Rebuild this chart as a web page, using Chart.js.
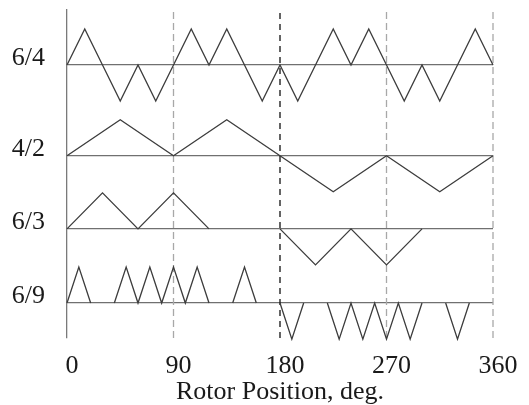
<!DOCTYPE html>
<html>
<head>
<meta charset="utf-8">
<title>Rotor Position</title>
<script src="https://cdn.jsdelivr.net/npm/chart.js"></script>
<style>
  html, body { margin: 0; padding: 0; background: #fff; }
  #wrap { width: 529px; height: 405px; }
</style>
</head>
<body>
<div id="wrap"><canvas id="myChart"></canvas></div>
<script>
// row names, top to bottom
const rowLabels = ['6/4', '4/2', '6/3', '6/9'];

// 6/4 waveform (angle in deg, value in units of peak)
const angle64 = [0, 15, 30, 45, 60, 75, 90, 105, 120, 135, 150, 165, 180,
                 195, 210, 225, 240, 255, 270, 285, 300, 315, 330, 345, 360];
const value64 = [0, 1, 0, -1, 0, -1, 0, 1, 0, 1, 0, -1, 0,
                 -1, 0, 1, 0, 1, 0, -1, 0, -1, 0, 1, 0];

// 4/2 waveform
const angle42 = [0, 45, 90, 135, 180, 225, 270, 315, 360];
const value42 = [0, 1, 0, 1, 0, -1, 0, -1, 0];

// 6/3 waveform (null = no pulse)
const angle63 = [0, 30, 60, 90, 120, 150, 180, 210, 240, 270, 300];
const value63 = [0, 1, 0, 1, 0, null, 0, -1, 0, -1, 0];

// 6/9 waveform
const angle69 = [0, 10, 20, 30, 40, 50, 60, 70, 80, 90, 100, 110, 120, 130,
                 140, 150, 160, 170, 180, 190, 200, 210, 220, 230, 240, 250,
                 260, 270, 280, 290, 300, 310, 320, 330, 340];
const value69 = [0, 1, 0, null, 0, 1, 0, 1, 0, 1, 0, 1, 0, null,
                 0, 1, 0, null, 0, -1, 0, null, 0, -1, 0, -1,
                 0, -1, 0, -1, 0, null, 0, -1, 0];

// x axis ticks and reference lines
const xTicks = [0, 90, 180, 270, 360];
const refAngles = [90, 180, 270, 360];

// layout: baseline of each row in peak units, and y range
const rowBase = [7.58, 5.06, 3.03, 0.97];
const yMax = 9.11;

function rowData(angles, values, base) {
  return angles.map((a, i) => ({ x: a, y: values[i] === null ? null : base + values[i] }));
}

const waveStyle = {
  borderColor: '#3c3c3c',
  borderWidth: 1.3,
  pointRadius: 0,
  tension: 0,
  spanGaps: false,
  clip: false
};

const datasets = [
  Object.assign({ data: rowData(angle64, value64, rowBase[0]) }, waveStyle),
  Object.assign({ data: rowData(angle42, value42, rowBase[1]) }, waveStyle),
  Object.assign({ data: rowData(angle63, value63, rowBase[2]) }, waveStyle),
  Object.assign({ data: rowData(angle69, value69, rowBase[3]) }, waveStyle)
];

refAngles.forEach(a => {
  datasets.push({
    data: [{ x: a, y: 0 }, { x: a, y: yMax }],
    borderColor: a === 180 ? '#111111' : '#a8a8a8',
    borderWidth: 1.3,
    borderDash: a === 180 ? [6, 5] : [7, 4],
    pointRadius: 0,
    clip: false
  });
});

const serif = 'Liberation Serif';

function noPad(s) {
  s.paddingTop = 0;
  s.paddingBottom = 0;
  s.paddingLeft = 0;
  s.paddingRight = 0;
}

new Chart(document.getElementById('myChart'), {
  type: 'line',
  data: { datasets: datasets },
  options: {
    responsive: true,
    maintainAspectRatio: false,
    animation: false,
    devicePixelRatio: 1,
    layout: { padding: { top: 10, right: 36, left: 0, bottom: 0 } },
    plugins: { legend: { display: false }, tooltip: { enabled: false } },
    scales: {
      x: {
        type: 'linear',
        min: 0,
        max: 360,
        afterBuildTicks: s => { s.ticks = xTicks.map(v => ({ value: v })); },
        afterFit: s => { s.height = 67; noPad(s); },
        grid: { display: false, drawTicks: false },
        border: { display: false },
        ticks: {
          font: { family: serif, size: 26 },
          color: '#1a1a1a',
          padding: 13,
          labelOffset: 5,
          maxRotation: 0
        },
        title: {
          display: true,
          text: 'Rotor Position, deg.',
          font: { family: serif, size: 26, lineHeight: 1.0 },
          color: '#1a1a1a',
          padding: 0
        }
      },
      y: {
        min: 0,
        max: yMax,
        afterBuildTicks: s => { s.ticks = rowBase.map(v => ({ value: v })); },
        afterFit: s => { s.width = 67; noPad(s); },
        grid: { color: '#707070', lineWidth: 1.2, drawTicks: false },
        border: { display: true, color: '#7a7a7a', width: 1.3 },
        ticks: {
          font: { family: serif, size: 26 },
          color: '#1a1a1a',
          padding: 22,
          labelOffset: -7,
          callback: (v, i) => rowLabels[i]
        }
      }
    }
  }
});
</script>
</body>
</html>
